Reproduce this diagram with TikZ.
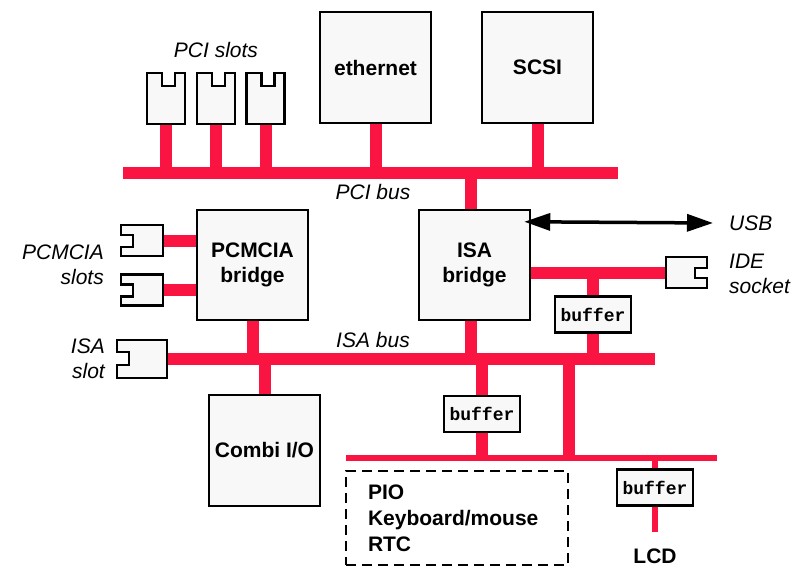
\documentclass[tikz,border=0pt]{standalone}
\usepackage{fontspec}
\setmainfont{Liberation Sans}
\setmonofont{Liberation Mono}
\usetikzlibrary{arrows.meta}
\pgfdeclarelayer{bg}
\pgfsetlayers{bg,main}
\definecolor{busred}{RGB}{250,20,66}
\definecolor{boxfill}{RGB}{248,248,248}
\tikzset{
  box/.style={draw, line width=2.5pt, fill=boxfill, inner sep=0pt, align=center,
    font=\bfseries\fontsize{21}{25}\selectfont},
  buf/.style={draw, line width=2.5pt, fill=boxfill, inner sep=0pt,
    minimum width=76pt, minimum height=36pt, font=\ttfamily\bfseries\fontsize{18}{20}\selectfont},
  slotnode/.style={inner sep=0pt, draw=none},
  slotline/.style={draw, line width=2.5pt, fill=boxfill, line join=miter},
  lbl/.style={font=\itshape\fontsize{21}{25}\selectfont, inner sep=0pt},
  blbl/.style={font=\bfseries\fontsize{21}{26}\selectfont, inner sep=0pt},
  bus/.style={draw=busred, line width=12pt},
  thinbus/.style={draw=busred, line width=6.5pt},
}
\begin{document}
\begin{tikzpicture}[x=1pt,y=-1pt]
\useasboundingbox (0,0) rectangle (796,568);
% boxes
\node[box, minimum width=111pt, minimum height=111pt] (eth) at (375.5,67.5) {ethernet};
\node[box, minimum width=111pt, minimum height=111pt] (scsi) at (537.5,67.5) {SCSI};
\node[box, minimum width=111pt, minimum height=110pt] (pcb) at (252.5,265) {PCMCIA\\bridge};
\node[box, minimum width=111pt, minimum height=110pt] (isab) at (474.5,265) {ISA\\bridge};
\node[box, minimum width=111pt, minimum height=111pt] (combi) at (264.5,450.5) {Combi I/O};
% buffers
\node[buf] (buf1) at (593,314.5) {buffer};
\node[buf] (buf2) at (482,414) {buffer};
\node[buf] (buf3) at (655,487.5) {buffer};
% slots
\node[slotnode, minimum width=38pt, minimum height=51pt] (s1) at (166,98.5) {};
\node[slotnode, minimum width=38pt, minimum height=51pt] (s2) at (216,98.5) {};
\node[slotnode, minimum width=38pt, minimum height=51pt] (s3) at (265.5,98.5) {};
\node[slotnode, minimum width=42pt, minimum height=31pt] (p1) at (142,240.5) {};
\node[slotnode, minimum width=42pt, minimum height=31pt] (p2) at (142,290) {};
\node[slotnode, minimum width=50pt, minimum height=38pt] (isas) at (142,359) {};
\node[slotnode, minimum width=41pt, minimum height=31pt] (ide) at (686.5,272.5) {};
\foreach \n in {s1,s2,s3}
  \draw[slotline] (\n.north west) -- ++(15,0) -- ++(0,13) -- ++(13,0) -- ++(0,-13)
     -- (\n.north east) -- (\n.south east) -- (\n.south west) -- cycle;
\foreach \n in {p1,p2}
  \draw[slotline] (\n.north west) -- (\n.north east) -- (\n.south east) -- (\n.south west)
     -- ++(0,-9) -- ++(12,0) -- ++(0,-12) -- ++(-12,0) -- cycle;
\draw[slotline] (isas.north west) -- (isas.north east) -- (isas.south east) -- (isas.south west)
     -- ++(0,-13) -- ++(12,0) -- ++(0,-13) -- ++(-12,0) -- cycle;
\draw[slotline] (ide.north west) -- (ide.north east) -- ++(0,11) -- ++(-12,0) -- ++(0,10)
     -- ++(12,0) -- (ide.south east) -- (ide.south west) -- cycle;
% dashed group
\node[draw, dashed, dash pattern=on 10pt off 6pt, line width=1.5pt, minimum height=94pt,
  text width=178pt, inner xsep=22pt, align=left, font=\bfseries\fontsize{21}{26}\selectfont]
  (grp) at (457,518) {PIO\\Keyboard/mouse\\RTC};
% labels
\node[lbl] (lpcis) at (216,50) {PCI slots};
\node[lbl] (lpcib) at (373,192) {PCI bus};
\node[lbl] (lisab) at (373,340) {ISA bus};
\node[lbl, anchor=east, align=right] (lpcm) at (104,265) {PCMCIA\\slots};
\node[lbl, anchor=east, align=right] (lisas) at (105,359) {ISA\\slot};
\node[lbl, anchor=west] (lusb) at (729,223) {USB};
\node[lbl, anchor=west, align=left] (lide) at (729,274) {IDE\\socket};
\node[blbl] (lcd) at (655,556) {LCD};
% bus coordinates
\coordinate (pciL) at (123,173);
\coordinate (pciR) at (618,173);
\coordinate (isaL) at (isas.east |- 0,359);
\coordinate (isaR) at (655,359);
\coordinate (lowL) at (346,458);
\coordinate (lowR) at (717,458);
\coordinate (lcdend) at (655,532);
\coordinate (usbA) at ([shift={(-7,13)}]isab.north east);
\coordinate (usbB) at (713,223);
\coordinate (v2top) at (569,359);
\begin{pgfonlayer}{bg}
\draw[bus] (pciL) -- (pciR);
\draw[bus] (isaL) -- (isaR);
\draw[thinbus] (lowL) -- (lowR);
\foreach \n in {s1,s2,s3,eth,scsi}
  \draw[bus] (\n.south) -- (\n.south |- pciL);
\draw[bus] ([xshift=-3.5pt]isab.north) -- ([xshift=-3.5pt]isab.north |- pciL);
\draw[bus] (p1.east) -- (pcb.west |- p1.east);
\draw[bus] (p2.east) -- (pcb.west |- p2.east);
\draw[bus] (pcb.south) -- (pcb.south |- isaL);
\draw[bus] (combi.north) -- (combi.north |- isaL);
\draw[bus] ([xshift=-3.5pt]isab.south) -- ([xshift=-3.5pt]isab.south |- isaL);
\draw[bus] (isab.east |- ide.west) -- (ide.west);
\draw[bus] (buf1.north) -- (buf1.north |- ide.west);
\draw[bus] (buf1.south) -- (buf1.south |- isaL);
\draw[bus] (buf2.north) -- (buf2.north |- isaL);
\draw[bus] (buf2.south) -- (buf2.south |- lowL);
\draw[bus] (v2top) -- (v2top |- lowL);
\draw[thinbus] (buf3.north) -- (buf3.north |- lowL);
\draw[thinbus] (buf3.south) -- (lcdend);
\end{pgfonlayer}
\draw[line width=3.5pt, {Triangle[length=26pt,width=17pt]}-{Triangle[length=26pt,width=17pt]}] (usbA) -- (usbB);
\end{tikzpicture}
\end{document}
